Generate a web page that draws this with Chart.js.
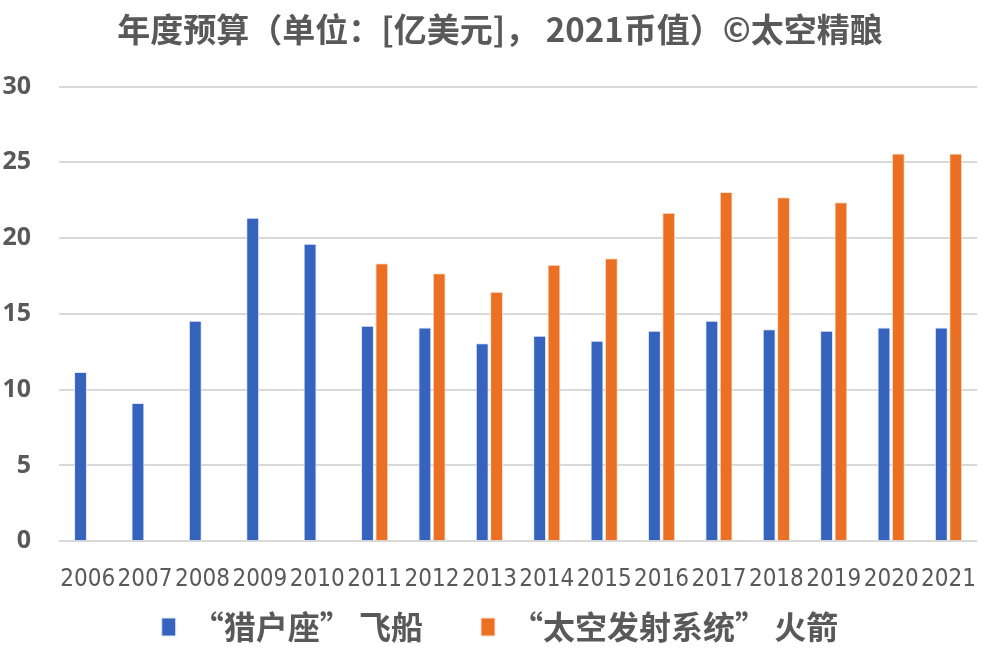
<!DOCTYPE html>
<html>
<head>
<meta charset="utf-8">
<script src="https://cdn.jsdelivr.net/npm/chart.js@4"></script>
<style>
  html, body { margin: 0; padding: 0; background: #fff; overflow: hidden; }
  #caja { width: 1000px; height: 649px; }
</style>
</head>
<body>
<div id="caja"><canvas id="grafica"></canvas></div>
<script>
const anios = ["2006", "2007", "2008", "2009", "2010", "2011", "2012", "2013", "2014", "2015", "2016", "2017", "2018", "2019", "2020", "2021"];
const orion = [11.17, 9.12, 14.54, 21.35, 19.63, 14.21, 14.1, 13.07, 13.55, 13.22, 13.88, 14.54, 13.99, 13.88, 14.1, 14.1];
const sls = [null, null, null, null, null, 18.35, 17.69, 16.46, 18.24, 18.68, 21.68, 23.04, 22.7, 22.37, 25.58, 25.58];
const ticksY = [0, 5, 10, 15, 20, 25, 30];

const colorTexto = "#595959";
const colorGrid = "#d9d9d9";
const fuenteCjk = "'Noto Sans CJK SC', 'Noto Sans', sans-serif";
const alturaLeyenda = 31;
const subidaLeyenda = 65;

// la leyenda usa padding grande para separar los items: se recorta el alto y se dibuja un poco más arriba
const ajusteLeyenda = {
    id: "ajusteLeyenda",
    beforeLayout(chart) {
        const leyenda = chart.legend;
        if (leyenda && !leyenda._ajustada) {
            const fitOriginal = leyenda.fit.bind(leyenda);
            const drawOriginal = leyenda.draw.bind(leyenda);
            leyenda.fit = function () {
                fitOriginal();
                this.height = alturaLeyenda;
            };
            leyenda.draw = function () {
                const top = this.top;
                this.top = top - subidaLeyenda;
                drawOriginal();
                this.top = top;
            };
            leyenda._ajustada = true;
        }
    }
};

new Chart(document.getElementById("grafica"), {
    type: "bar",
    data: {
        labels: anios,
        datasets: [
            {
                label: "“猎户座” 飞船",
                data: orion,
                backgroundColor: "#3563be",
                borderColor: "#dfe7f7",
                borderWidth: 1
            },
            {
                label: "“太空发射系统” 火箭",
                data: sls,
                backgroundColor: "#eb7023",
                borderColor: "#fbe2d2",
                borderWidth: 1
            }
        ]
    },
    plugins: [ajusteLeyenda],
    options: {
        responsive: true,
        maintainAspectRatio: false,
        animation: false,
        layout: { padding: { left: 0, right: 0, top: 6, bottom: 0 } },
        datasets: { bar: { categoryPercentage: 0.5, barPercentage: 0.9 } },
        plugins: {
            title: {
                display: true,
                text: "年度预算（单位：[亿美元]， 2021币值）©太空精酿",
                color: colorTexto,
                font: { family: fuenteCjk, size: 33, weight: "bold" },
                padding: { top: 4, bottom: 37 }
            },
            legend: {
                position: "bottom",
                labels: {
                    color: colorTexto,
                    font: { family: fuenteCjk, size: 32, weight: "bold" },
                    boxWidth: 14,
                    boxHeight: 18,
                    padding: 58
                }
            },
            tooltip: { enabled: false }
        },
        scales: {
            x: {
                grid: { display: false, drawTicks: false },
                border: { display: false },
                ticks: {
                    color: colorTexto,
                    font: { family: "'DejaVu Sans Condensed', 'Liberation Sans', sans-serif", size: 24 },
                    padding: 24,
                    maxRotation: 0,
                    autoSkip: false
                }
            },
            y: {
                min: 0,
                max: 30,
                afterBuildTicks: escala => { escala.ticks = ticksY.map(v => ({ value: v })); },
                afterFit: escala => { escala.width = 59; },
                grid: { color: colorGrid, lineWidth: 2, drawTicks: false },
                border: { display: false },
                ticks: {
                    color: colorTexto,
                    font: { family: "'Noto Sans', sans-serif", size: 25, weight: "bold" },
                    padding: 28
                }
            }
        }
    }
});
</script>
</body>
</html>
